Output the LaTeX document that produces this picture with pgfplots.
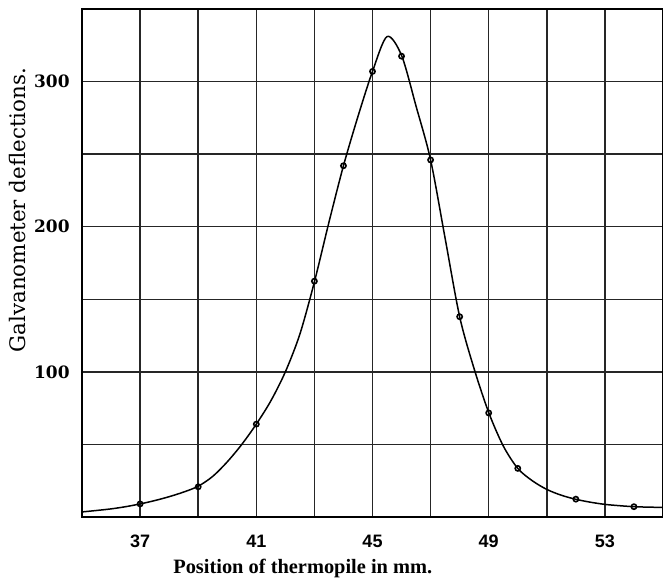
\documentclass[border=0pt]{standalone}
\usepackage{pgfplots}
\usepackage{pgfplotstable}
\pgfplotsset{compat=1.18}
\usepackage{fontspec}
\setmainfont{Liberation Serif}
\newfontfamily\ticksans{Liberation Sans}
\newfontfamily\yfont{DejaVu Serif}

% measured galvanometer deflections
\pgfplotstableread{
x y
37 9
39 20.8
41 64
43 162.5
44 242
45 307
46 317.5
47 246
48 138
49 71.7
50 33.5
52 12.3
54 7.1
}\readings

% drawn curve through the readings, every half millimetre
\pgfplotstableread{
x y
35 3.5
35.5 4.5
36 5.6
36.5 7.1
37 9
37.5 11.3
38 14
38.5 17.2
39 21.2
39.5 28
40 38
40.5 50
41 64
41.5 80
42 100
42.5 126
43 162
43.5 203
44 242
44.5 276
45 307
45.5 331
46 318
46.5 283
47 246
47.5 192
48 138
48.5 102
49 72
49.5 49
50 33.5
50.5 25
51 19
51.5 15
52 12.2
52.5 10.2
53 8.7
53.5 7.8
54 7.1
54.5 6.8
55 6.6
}\curve

\begin{document}
\begin{tikzpicture}
\begin{axis}[
  name=ax,
  scale only axis,
  width=290.5pt, height=254pt,
  xmin=35, xmax=55, ymin=0, ymax=350,
  xtick={37,41,45,49,53},
  minor xtick={39,43,47,51},
  ytick={100,200,300},
  minor ytick={50,150,250},
  grid=both,
  major grid style={black!85, line width=0.75pt},
  minor grid style={black!85, line width=0.75pt},
  major tick length=0pt, minor tick length=0pt,
  axis line style={black, line width=1.1pt},
  /pgf/number format/assume math mode=true,
  xticklabel style={font=\ticksans\bfseries\fontsize{9}{10}\selectfont, anchor=north, inner sep=0pt, yshift=-9pt},
  yticklabel style={font=\yfont\bfseries\fontsize{8.5}{10}\selectfont, anchor=east, inner sep=0pt, xshift=-6pt},
  xlabel={Position of thermopile in mm.},
  xlabel style={font=\bfseries\fontsize{10.2}{12}\selectfont, at={([yshift=-25.5pt]axis description cs:0.38,0)}, anchor=center},
  ylabel={Galvanometer deflections.},
  ylabel style={font=\yfont\fontsize{10.7}{12}\selectfont, at={([xshift=-32pt]axis description cs:0,0.604)}, anchor=center},
]
\addplot[smooth, tension=0.5, line width=0.75pt, black, no marks] table {\curve};
\addplot[only marks, black, mark=o, mark size=1.3pt, mark options={line width=0.8pt}] table {\readings};
\end{axis}
\pgfresetboundingbox
\path ([xshift=-41pt,yshift=-31pt]ax.south west) rectangle ([yshift=4.5pt]ax.north east);
\end{tikzpicture}
\end{document}
